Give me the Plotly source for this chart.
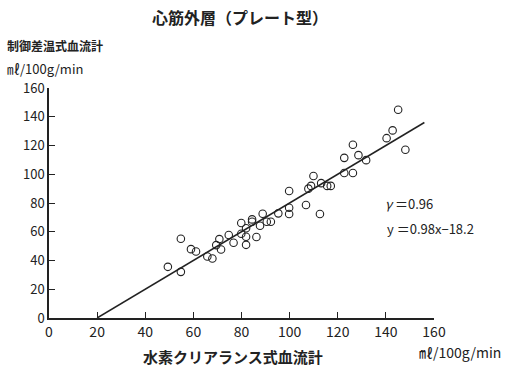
import plotly.graph_objects as go

# Data
x_vals = [49.4, 54.8, 54.8, 59.0, 61.1, 65.8, 67.9, 69.5, 70.8, 71.5,
          74.7, 76.7, 79.9, 79.9, 81.9, 81.9, 81.9, 84.4, 84.4, 86.2,
          87.7, 88.8, 90.5, 92.2, 95.3, 99.8, 99.8, 99.8, 106.8, 107.8,
          108.9, 109.9, 112.6, 113.1, 115.6, 117.1, 122.7, 122.7, 126.3, 126.3,
          128.6, 131.8, 140.3, 142.8, 145.1, 148.1]
y_vals = [35.6, 55.1, 32.1, 47.9, 46.3, 42.8, 41.4, 50.7, 54.9, 47.7,
          57.7, 52.3, 66.1, 58.6, 62.4, 56.5, 50.9, 68.6, 67.0, 56.3,
          64.2, 72.5, 67.0, 67.0, 72.8, 88.4, 76.7, 72.3, 78.6, 90.0,
          91.9, 98.8, 72.3, 93.8, 91.9, 91.9, 111.4, 100.9, 120.5, 100.9,
          113.3, 109.8, 125.1, 130.5, 144.9, 117.0]

line_x = [20, 156]
line_y = [0, 136]

x_ticks = [0, 20, 40, 60, 80, 100, 120, 140, 160]
y_ticks = [0, 20, 40, 60, 80, 100, 120, 140, 160]

title = "心筋外層（プレート型）"
y_title = "制御差温式血流計"
x_title = "水素クリアランス式血流計"
unit = "㎖/100g/min"
r_text = "<i>γ</i> ＝0.96"
eq_text = "y ＝0.98x−18.2"

FONT = "Noto Sans CJK JP"
INK = "#222222"

W, H = 509, 371
l, r, t, b = 49, 75, 88, 53
pw, ph = W - l - r, H - t - b


def px(xp):
    return (xp - l) / pw


def py(yp):
    return (H - b - yp) / ph


fig = go.Figure()
fig.add_trace(go.Scatter(x=line_x, y=line_y, mode="lines",
                         line=dict(color=INK, width=1.5), showlegend=False,
                         hoverinfo="skip"))
fig.add_trace(go.Scatter(x=x_vals, y=y_vals, mode="markers",
                         marker=dict(symbol="circle-open", size=7.5,
                                     color=INK, line=dict(width=1.1, color=INK)),
                         showlegend=False))

ann = [
    dict(text="<b>" + title + "</b>", x=px(240), y=py(17), font=dict(size=16)),
    dict(text="<b>" + y_title + "</b>", x=px(5), y=py(46), xanchor="left",
         font=dict(size=12)),
    dict(text=unit, x=px(5), y=py(68), xanchor="left", font=dict(size=13)),
    dict(text="<b>" + x_title + "</b>", x=px(233), y=py(356), font=dict(size=15)),
    dict(text=unit, x=px(417), y=py(352), xanchor="left", font=dict(size=14)),
    dict(text=r_text, x=px(383), y=py(203), xanchor="left", font=dict(size=13)),
    dict(text=eq_text, x=px(385), y=py(228), xanchor="left", font=dict(size=13)),
]
for a in ann:
    a.update(xref="paper", yref="paper", yanchor="middle", showarrow=False)

fig.update_layout(
    width=W, height=H,
    margin=dict(l=l, r=r, t=t, b=b, autoexpand=False),
    paper_bgcolor="white", plot_bgcolor="white",
    font=dict(family=FONT, color=INK, size=14),
    xaxis=dict(range=[0, 160], tickvals=x_ticks, ticks="inside", ticklen=6,
               tickcolor=INK, showline=True, linecolor=INK, linewidth=1.5,
               showgrid=False, zeroline=False, tickfont=dict(size=14),
               automargin=False),
    yaxis=dict(range=[0, 160], tickvals=y_ticks, ticks="inside", ticklen=6,
               tickcolor=INK, showline=True, linecolor=INK, linewidth=1.5,
               showgrid=False, zeroline=False, tickfont=dict(size=13),
               automargin=False),
    annotations=ann,
)

fig.write_html("out.html", config={"displayModeBar": False},
               post_script="document.body.style.margin='0';document.body.style.padding='0';")
